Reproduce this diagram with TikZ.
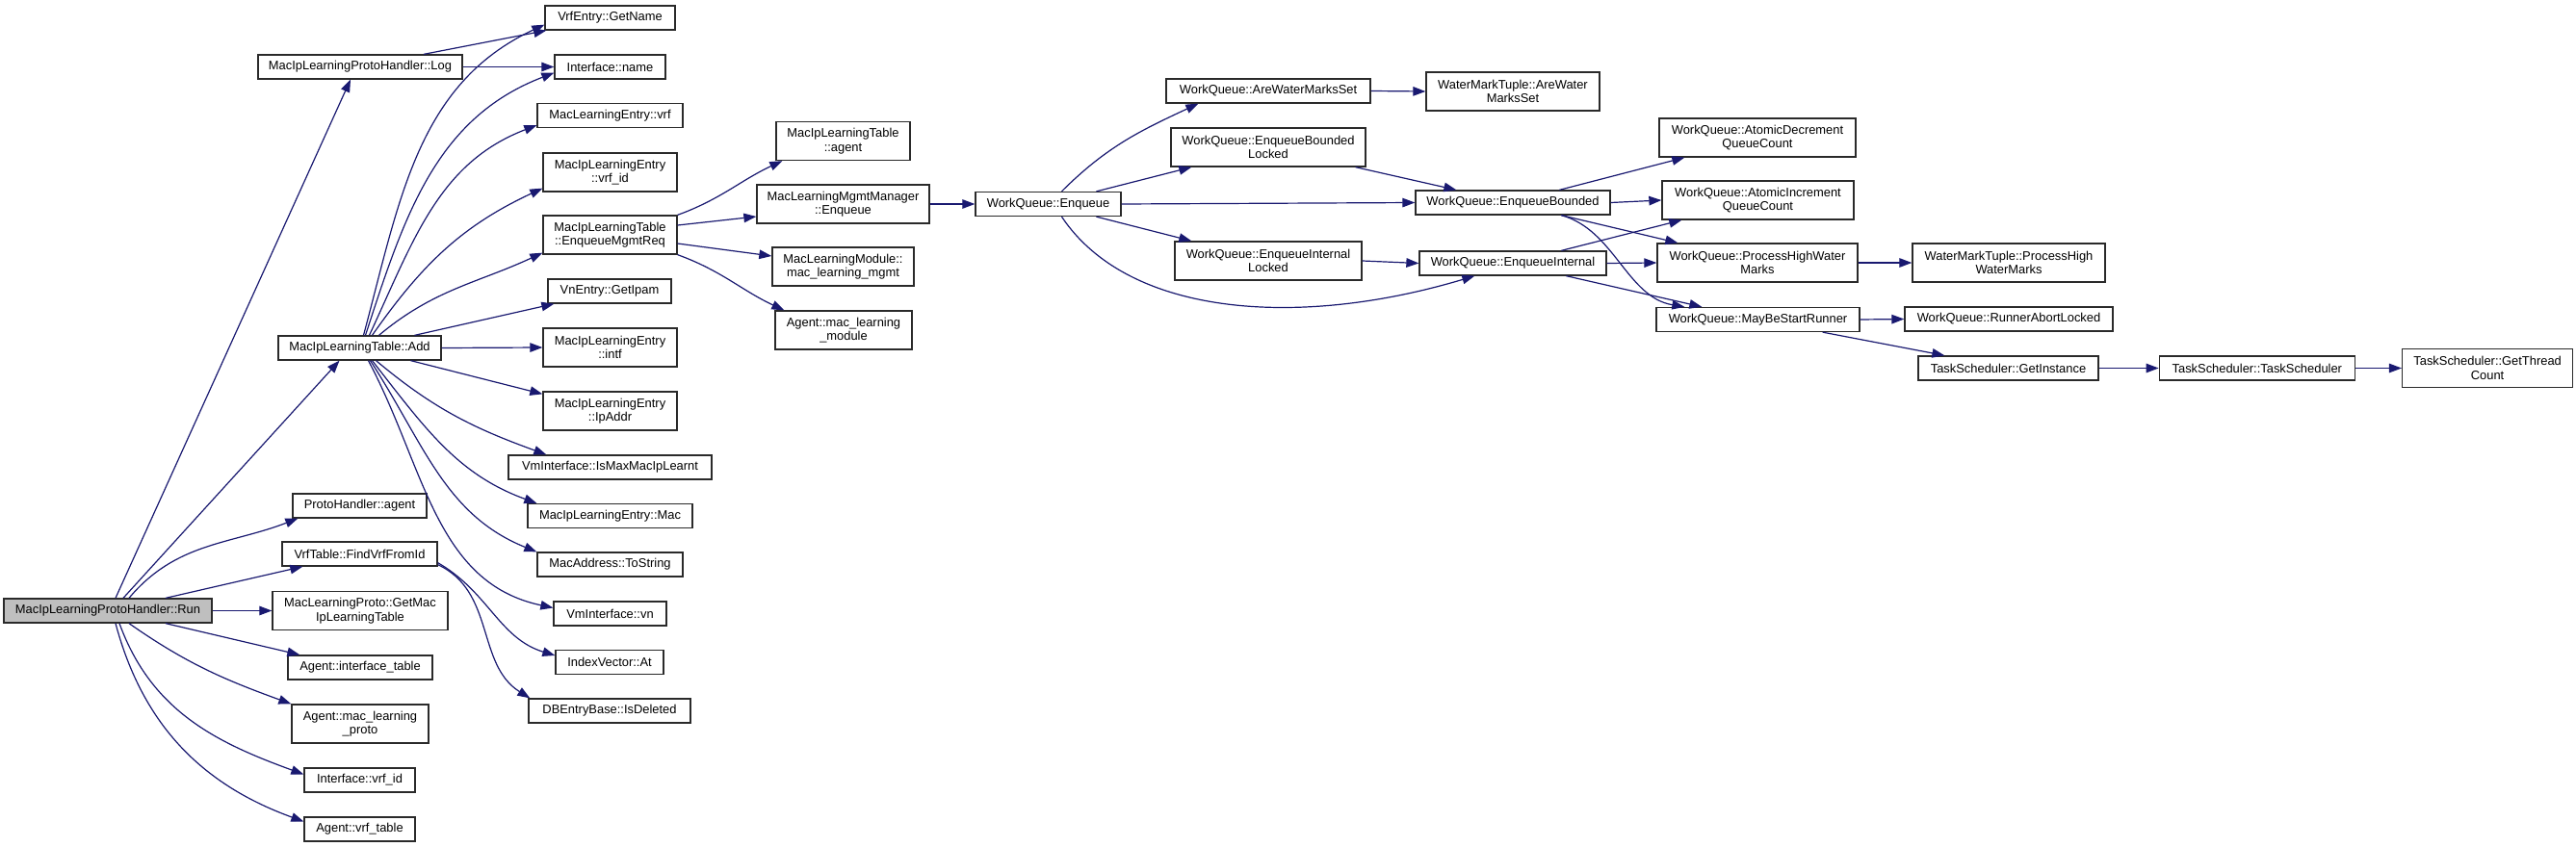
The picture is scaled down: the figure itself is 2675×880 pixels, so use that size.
\documentclass[tikz,border=0pt]{standalone}
\usepackage{fontspec}
\setmainfont{Liberation Sans}
\usepackage{tikz}
\usetikzlibrary{positioning, arrows.meta}
\definecolor{cgEdge}{HTML}{191970}
\definecolor{cgRoot}{HTML}{BFBFBF}
\definecolor{cgBorder}{HTML}{2A2A2A}
\newcommand{\cgfont}{\fontsize{12.9}{14.4}\selectfont}

\begin{document}
\begin{tikzpicture}[x=1pt, y=-1pt, fn/.style={draw=cgBorder, line width=1.3pt, fill=white, minimum width=#1pt, minimum height=25pt, inner sep=0pt, align=center, font=\cgfont}, fn2/.style={fn=#1, minimum height=40pt}, call/.style={-{Triangle[length=13pt, width=9.5pt]}, line width=1.2pt, color=cgEdge}]
\useasboundingbox (0,0) rectangle (2675,880);
\node[fn=216, fill=cgRoot] (run) at (112,634.5) {MacIpLearningProtoHandler::Run};
\node[fn=212] (log) at (374,69.5) {MacIpLearningProtoHandler::Log};
\node[fn=169] (add) at (373.5,361.5) {MacIpLearningTable::Add};
\node[fn=139] (pagent) at (373.5,525.5) {ProtoHandler::agent};
\node[fn=161] (fvrf) at (373.5,575.5) {VrfTable::FindVrfFromId};
\node[fn2=182] (getmac) at (374,634.5) {MacLearningProto::GetMac\\IpLearningTable};
\node[fn=150] (iftbl) at (374,693.5) {Agent::interface\_table};
\node[fn2=142] (mlproto) at (374,752) {Agent::mac\_learning\\\_proto};
\node[fn=115] (ifvrfid) at (373.5,810.5) {Interface::vrf\_id};
\node[fn=115] (vrftbl) at (373.5,861.5) {Agent::vrf\_table};
\node[fn=135] (gname) at (633.5,18.5) {VrfEntry::GetName};
\node[fn=115] (ifname) at (633.5,69.5) {Interface::name};
\node[fn=151] (mevrf) at (633.5,120) {MacLearningEntry::vrf};
\node[fn2=139] (mievrf) at (633.5,179) {MacIpLearningEntry\\::vrf\_id};
\node[fn2=139] (enqreq) at (633.5,244) {MacIpLearningTable\\::EnqueueMgmtReq};
\node[fn=128] (ipam) at (633,302.5) {VnEntry::GetIpam};
\node[fn2=139] (mintf) at (633.5,361) {MacIpLearningEntry\\::intf};
\node[fn2=139] (mipaddr) at (633.5,427) {MacIpLearningEntry\\::IpAddr};
\node[fn=211] (ismax) at (633.5,485.5) {VmInterface::IsMaxMacIpLearnt};
\node[fn=171] (mmac) at (633.5,536) {MacIpLearningEntry::Mac};
\node[fn=151] (tostr) at (633.5,586.5) {MacAddress::ToString};
\node[fn=117] (vmvn) at (633.5,637.5) {VmInterface::vn};
\node[fn=112] (idxat) at (633,688) {IndexVector::At};
\node[fn=168] (isdel) at (633,738.5) {DBEntryBase::IsDeleted};
\node[fn2=139] (tagent) at (875.5,146.5) {MacIpLearningTable\\::agent};
\node[fn2=179] (mgmtenq) at (875.5,212) {MacLearningMgmtManager\\::Enqueue};
\node[fn2=147] (mlmgmt) at (875.5,277) {MacLearningModule::\\mac\_learning\_mgmt};
\node[fn2=142] (mlmod) at (876,343) {Agent::mac\_learning\\\_module};
\node[fn=151] (wqenq) at (1088.5,212) {WorkQueue::Enqueue};
\node[fn=212] (arewm) at (1317,94.5) {WorkQueue::AreWaterMarksSet};
\node[fn2=202] (enqbl) at (1317,153) {WorkQueue::EnqueueBounded\\Locked};
\node[fn2=194] (enqil) at (1317,271) {WorkQueue::EnqueueInternal\\Locked};
\node[fn2=180] (wmtare) at (1571,95) {WaterMarkTuple::AreWater\\MarksSet};
\node[fn=202] (enqb) at (1571,210.5) {WorkQueue::EnqueueBounded};
\node[fn=194] (enqi) at (1571,273.5) {WorkQueue::EnqueueInternal};
\node[fn2=204] (atdec) at (1825,143) {WorkQueue::AtomicDecrement\\QueueCount};
\node[fn2=199] (atinc) at (1825.5,208) {WorkQueue::AtomicIncrement\\QueueCount};
\node[fn2=208] (prochw) at (1825,273) {WorkQueue::ProcessHighWater\\Marks};
\node[fn=211] (maybe) at (1825.5,332) {WorkQueue::MayBeStartRunner};
\node[fn2=200] (wmtproc) at (2086,273) {WaterMarkTuple::ProcessHigh\\WaterMarks};
\node[fn=216] (abort) at (2086,331.5) {WorkQueue::RunnerAbortLocked};
\node[fn=187] (getinst) at (2085.5,382.5) {TaskScheduler::GetInstance};
\node[fn=203, right=62pt of getinst] (tsched) {TaskScheduler::TaskScheduler};
\node[fn2=177, right=48pt of tsched] (thrcnt) {TaskScheduler::GetThread\\Count};
\draw[call] ([xshift=8pt]run.north) -- ([xshift=-10pt]log.south); \draw[call] ([xshift=16pt]run.north) -- ([xshift=-21pt]add.south); \draw[call] ([xshift=22pt]run.north) to[out=50, in=201] ([xshift=6pt]pagent.south west); \draw[call] ([xshift=60pt]run.north) -- ([xshift=22pt]fvrf.south west); \draw[call] (run.east) -- (getmac.west);
\draw[call] ([xshift=60pt]run.south) -- ([xshift=13pt]iftbl.north west); \draw[call] ([xshift=22pt]run.south) to[out=-35, in=160] (mlproto.north west); \draw[call] ([xshift=12pt]run.south) to[out=-70, in=160] ([yshift=6pt]ifvrfid.west); \draw[call] ([xshift=8pt]run.south) to[out=-75, in=160] ([yshift=8pt]vrftbl.west);
\draw[call] ([xshift=66pt]log.north) -- ([xshift=2pt]gname.south west); \draw[call] (log.east) -- (ifname.west);
\draw[call] ([xshift=4pt]add.north) to[out=75, in=205] ([yshift=6pt]gname.south west); \draw[call] ([xshift=6pt]add.north) to[out=72, in=201] ([yshift=7pt]ifname.south west); \draw[call] ([xshift=10pt]add.north) to[out=65, in=201] ([yshift=3pt]mevrf.south west); \draw[call] ([xshift=13pt]add.north) to[out=55, in=205] ([yshift=4pt]mievrf.south west); \draw[call] ([xshift=20pt]add.north) to[out=40, in=205] ([yshift=2pt]enqreq.south west); \draw[call] ([xshift=57pt]add.north) -- ([xshift=7pt]ipam.south west); \draw[call] (add.east) -- (mintf.west);
\draw[call] ([xshift=53pt]add.south) -- ([yshift=-3pt]mipaddr.north west); \draw[call] ([xshift=17pt]add.south) to[out=-40, in=160] ([xshift=40pt]ismax.north west); \draw[call] ([xshift=13pt]add.south) to[out=-52, in=160] ([xshift=10pt]mmac.north west); \draw[call] ([xshift=11pt]add.south) to[out=-57, in=158] (tostr.north west); \draw[call] ([xshift=9pt]add.south) to[out=-62, in=168] ([yshift=6pt]vmvn.west);
\draw[call] ([yshift=4pt]fvrf.south east) to[out=-30, in=163] ([yshift=7pt]idxat.west); \draw[call] ([yshift=2pt]fvrf.south east) to[out=-25, in=148] ([xshift=2pt]isdel.north west);
\draw[call] (enqreq.north east) to[out=20, in=205] ([xshift=7pt]tagent.south west); \draw[call] ([yshift=10pt]enqreq.east) -- ([yshift=-13pt]mgmtenq.west); \draw[call] ([yshift=-9pt]enqreq.east) -- ([yshift=11pt]mlmgmt.west); \draw[call] (enqreq.south east) to[out=-20, in=155] ([xshift=10pt]mlmod.north west);
\draw[call] (mgmtenq.east) -- (wqenq.west);
\draw[call] ([xshift=14pt]wqenq.north) to[out=45, in=205] ([xshift=34pt]arewm.south west); \draw[call] ([xshift=50pt]wqenq.north) -- ([xshift=22pt]enqbl.south west); \draw[call] (wqenq.east) -- (enqb.west); \draw[call] ([xshift=50pt]wqenq.south) -- ([xshift=18pt]enqil.north west); \draw[call] ([xshift=14pt]wqenq.south) .. controls +(70,105) and +(-180,54) .. ([xshift=58pt]enqi.south west);
\draw[call] (arewm.east) -- (wmtare.west); \draw[call] ([xshift=-11pt]enqbl.south east) -- ([xshift=43pt]enqb.north west); \draw[call] (enqil.east) -- (enqi.west);
\draw[call] ([xshift=150pt]enqb.north west) -- ([xshift=27pt]atdec.south west); \draw[call] (enqb.east) -- (atinc.west); \draw[call] ([xshift=152pt]enqb.south west) -- ([xshift=22pt]prochw.north west); \draw[call] ([xshift=152pt]enqb.south west) .. controls +(55,15) and +(-60,-10) .. ([xshift=30pt]maybe.north west);
\draw[call] ([xshift=148pt]enqi.north west) -- ([xshift=21pt]atinc.south west); \draw[call] (enqi.east) -- (prochw.west); \draw[call] ([xshift=153pt]enqi.south west) -- ([xshift=48pt]maybe.north west);
\draw[call] (prochw.east) -- (wmtproc.west); \draw[call] (maybe.east) -- (abort.west); \draw[call] ([xshift=-39pt]maybe.south east) -- ([xshift=28pt]getinst.north west); \draw[call] (getinst.east) -- (tsched.west); \draw[call] (tsched.east) -- (thrcnt.west);
\end{tikzpicture}
\end{document}
